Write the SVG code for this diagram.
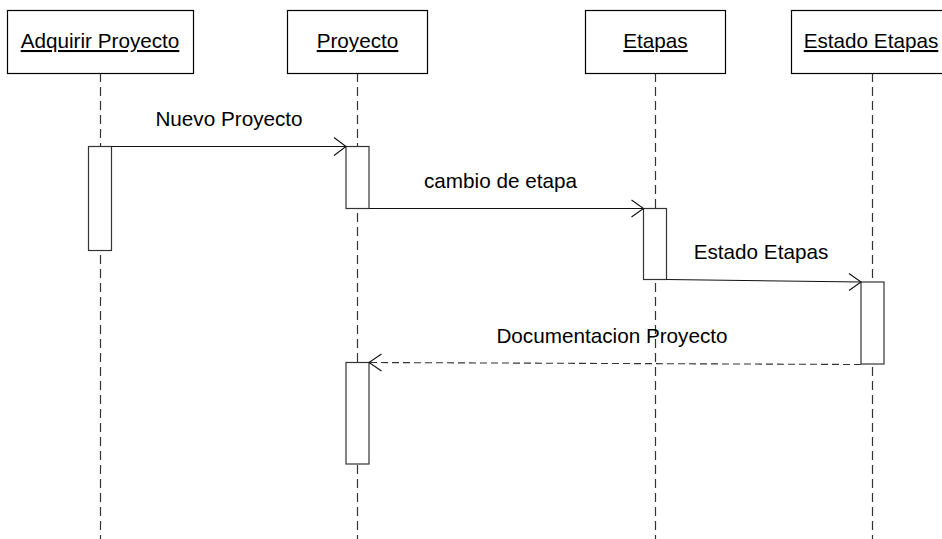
<svg xmlns="http://www.w3.org/2000/svg" width="942" height="539" viewBox="0 0 942 539">
<defs>
<style>
.box{fill:#fff;stroke:#000;stroke-width:1.2}
.act{fill:#fff;stroke:#333;stroke-width:1.2}
.life{stroke:#333;stroke-width:1.2;stroke-dasharray:9,5;fill:none}
.msg{stroke:#111;stroke-width:1.1;fill:none}
.ret{stroke:#333;stroke-width:1.1;fill:none;stroke-dasharray:7,4}
.head{stroke:#111;stroke-width:1.1;fill:none}
text{font-family:"Liberation Sans",Arial,sans-serif;font-size:20.7px;fill:#000}
.title{text-anchor:middle;text-decoration:underline}
.lbl{text-anchor:middle}
</style>
</defs>
<rect width="942" height="539" fill="#fff"/>
<g id="lifelines">
<line class="life" x1="100.5" y1="73" x2="100.5" y2="539"/>
<line class="life" x1="357.5" y1="73" x2="357.5" y2="539"/>
<line class="life" x1="655.5" y1="73" x2="655.5" y2="539"/>
<line class="life" x1="872.5" y1="73" x2="872.5" y2="539"/>
</g>
<g id="node-adquirir">
<rect class="box" x="7.5" y="10.5" width="186" height="63"/>
<text class="title" x="100" y="48">Adquirir Proyecto</text>
</g>
<g id="node-proyecto">
<rect class="box" x="287.5" y="10.5" width="140" height="63"/>
<text class="title" x="357.5" y="48">Proyecto</text>
</g>
<g id="node-etapas">
<rect class="box" x="585.5" y="10.5" width="140" height="63"/>
<text class="title" x="655.5" y="48">Etapas</text>
</g>
<g id="node-estado">
<rect class="box" x="791.5" y="10.5" width="162" height="63"/>
<text class="title" x="871" y="48">Estado Etapas</text>
</g>
<g id="activations">
<rect class="act" x="88.5" y="146.5" width="23" height="104"/>
<rect class="act" x="346" y="146.5" width="23" height="62"/>
<rect class="act" x="643.5" y="208.5" width="23" height="71"/>
<rect class="act" x="861" y="282" width="23" height="82"/>
<rect class="act" x="346" y="362.5" width="23" height="101.5"/>
</g>
<g id="connectors">
<line class="msg" x1="111.5" y1="146.5" x2="346" y2="146.5"/>
<polyline class="head" points="334,137.5 346,146.5 334,155.5"/>
<text class="lbl" x="229" y="126">Nuevo Proyecto</text>
<line class="msg" x1="369" y1="208.5" x2="643.5" y2="208.5"/>
<polyline class="head" points="631.5,200 643.5,208.5 631.5,217"/>
<text class="lbl" x="500.5" y="188">cambio de etapa</text>
<line class="msg" x1="666.5" y1="279.5" x2="861" y2="282"/>
<polyline class="head" points="849,273.5 861,282 849,290.5"/>
<text class="lbl" x="761" y="259">Estado Etapas</text>
<line class="ret" x1="861" y1="364.5" x2="369" y2="362.5"/>
<polyline class="head" points="381.5,354 369,362.5 381.5,371"/>
<text class="lbl" x="612" y="343">Documentacion Proyecto</text>
</g>
</svg>
